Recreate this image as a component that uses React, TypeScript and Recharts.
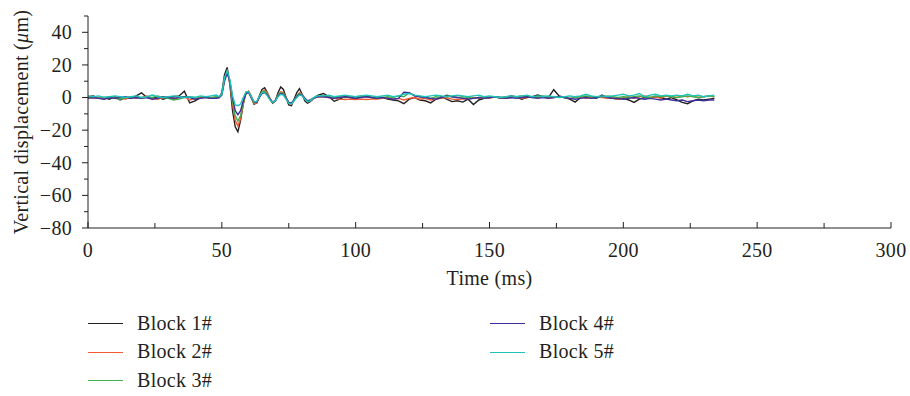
import React from 'react';
import { LineChart, Line, XAxis, YAxis, Label } from 'recharts';

// Sample times (ms)
const timeMs = [
  0, 2, 4, 6, 8, 10, 12, 14, 16, 18, 20, 22, 24, 26, 28, 30, 32, 34, 36, 38, 40, 42, 44, 46, 48,
  49, 50, 51, 52, 53, 54, 55, 56, 57, 58, 59, 60, 61, 62, 63, 64, 65, 66, 67, 68, 69, 70, 71, 72, 73, 74, 75, 76, 77, 78, 79, 80, 81, 82, 83, 84, 85, 86,
  88, 90, 92, 94, 96, 98,
  100, 102, 104, 106, 108, 110, 112, 114, 116, 118,
  120, 122, 124, 126, 128, 130, 132, 134, 136, 138,
  140, 142, 144, 146, 148, 150, 152, 154, 156, 158,
  160, 162, 164, 166, 168, 170, 172, 174, 176, 178,
  180, 182, 184, 186, 188, 190, 192, 194, 196, 198,
  200, 202, 204, 206, 208, 210, 212, 214, 216, 218,
  220, 222, 224, 226, 228, 230, 232, 234,
];

const block1 = [
  0.5, 1, -0.5, 0, -1, 0.5, -1.5, 0, -0.5, 1, 2.9, 0, -0.5, 0.5, -1, 0, 0.5, 1, 3.9, -3.3, -2, 0, 0.5, -0.5, 0.3,
  0, 3, 14, 18.5, 8, -8, -18, -21, -14, -4, 3, 3.5, 0, -4, -3.5, 1, 5, 6, 3, -1, -3.5, -2, 3, 6.5, 5, 0, -4.5, -5, -1, 3, 5.5, 2, -2, -3.5, -2.5, -1, 0.5, 1.5,
  2.5, 0.5, -2.3, -1, 0.5, 0,
  -0.5, 0.5, 1, 0, -0.5, 0, -1, -1.5, -2, -3.8,
  -1, 0, -1.5, -2, -3.3, -1, 0.5, -1, -2.5, -2,
  -2.8, -1, -4.3, -1.5, -0.5, 0, 0.5, -0.5, 0, 1,
  0.5, -1, 0, 0.5, 1.5, 0.5, 0, 4.8, 1, 0,
  -1, -2.8, 0, 0.5, 0, -0.5, 1.5, 0, -0.5, -1,
  -0.5, -1.5, -3, -1, 0, -0.5, 0.5, 0, -1, 0,
  -1.5, -3, -3.8, -2, -1, -1.5, -1, -0.5,
];

const block2 = [
  0.5, -0.5, 0, -1, 0.5, -0.5, 0, -1, 0.5, -0.5, 0, 1, -0.5, -1, 0, 0.5, -1, 0, 0.5, -1.5, -0.5, 0.5, 0, -0.5, 0,
  0, 2, 11, 16, 9, -4, -14, -17.5, -13, -4, 2.5, 4, 1, -3.5, -3.5, 0, 3.5, 4.5, 3, -0.5, -3, -2, 1.5, 3.5, 3, 0, -3, -4, -2, 1, 3, 2, -0.5, -2.5, -2, -1, 0, 0.5,
  0.5, 0, -0.5, -1, -1.2, -1,
  -1.2, -1, -1.2, -1, -1, -0.5, 0, -1, -0.5, -1.5,
  -0.5, 0, -1, -0.5, -1.5, -1, -0.5, 0, -1, -1.2,
  -1, -0.5, 0, -0.5, 0, -0.5, 0.5, 0, -0.5, 0,
  0.5, -0.5, 0, 0.5, 0, 0.5, -0.5, 0, 0.5, 0,
  -0.5, 0, 0.5, -0.5, 0, 0.5, 0, -0.5, 0, -1,
  0, 0.5, -0.5, 0.5, 1, 0, 0.5, -0.5, 1, 0.5,
  0, 1, 0.5, 1, 0, 0.5, 1, 0.5,
];

const block3 = [
  0, 0.5, -0.5, 0, 0.5, -0.5, -1, 0, 0.5, 0, -0.5, 0.5, 0, 1, 0, -0.5, -1.5, -1, 0, 0.5, 0, -0.5, 0.5, 0, 0.5,
  0, 2, 12, 16, 10, -2, -11, -14.5, -11, -3, 2.5, 3.5, 0.5, -3, -3, 0.5, 3.5, 4, 2, -1, -3, -1.5, 1.5, 3, 2.5, -0.5, -3, -3.5, -1.5, 1, 2.5, 1.5, -0.5, -2.5, -2, -0.5, 0.5, 1,
  1, 0.5, 0, 0.5, 0, 0.5,
  0.5, 1, 0.5, 0, 0.5, 0, 0.5, 0, 1, 0.5,
  3, 1, 0.5, 0, -0.5, 0.5, 0, 1.5, 0.5, 0,
  0.5, 0, -0.5, 0, 0.5, 0, 0.5, 0, 0.5, 0,
  0.5, 1, 0.5, 0, 0.5, 1, 0.5, 0, 0.5, 0,
  -0.5, 0, 0.5, 1, 0.5, 0, 0.5, 1, 0.5, 0,
  0.5, 0, 0.5, 1, 0.5, 0, 1, 0.5, 1, 0.5,
  0, 0.5, 1, 0.5, 0, 0.5, 1, 0.5,
];

const block4 = [
  -0.5, 0, -0.5, -1, 0, -0.5, 0, 0.5, -0.5, 0, -0.5, 0, -1, -0.5, 0.5, 0, -0.5, 0, 0.5, 0, -1, -0.5, 0, -0.5, -0.5,
  0, 1.5, 10, 15, 10, 0, -8, -10.5, -8, -2, 2.5, 3, 0, -2.5, -3, 0, 2.5, 3, 1.5, -1, -3, -2, 1, 2.5, 2, -0.5, -3, -3.5, -1.5, 0.5, 2, 1.5, -0.5, -2, -1.5, -0.5, 0, 0.5,
  0.5, 0, -0.5, 0, 0.5, 0,
  -0.5, 0, 0.5, 0, -0.5, 0, -0.5, -1, -0.5, 3.2,
  3, 1, 0.5, 0, -0.5, -1, 0, 1, 0.5, 0,
  -0.5, -1, -0.5, 0, -0.5, 0, 0.5, 0, -0.5, 0,
  -0.5, 0, 0.5, 0, -0.5, 0, -0.5, 0, 0.5, 0,
  -0.5, -1, -0.5, 0, -0.5, 0, 1, 0, -0.5, -0.5,
  -1, -0.5, 0, -0.5, -1, -0.5, -1, -1.5, -1, -1.5,
  -2, -1.5, -2.5, -2, -1.5, -2, -1.5, -1.5,
];

const block5 = [
  1, 0.5, 1, 0, 0.5, 1, 0.5, 0, 0.5, 1, 0, 0.5, 1.5, 0.5, 0, 0.5, 1, 0.5, 0, 0.5, 0, 1, 0.5, 1, 1.5,
  0.5, 2, 12, 16.5, 11, 1, -4.5, -5, -4, 0, 3.5, 3.5, 0.5, -2.5, -2.5, 0.5, 3, 3, 1, -1.5, -3, -2, 0.5, 2, 1.5, -1, -3.5, -4, -2, 0, 1.5, 1, -1, -2.5, -2, -0.5, 0.5, 1,
  1, 1.5, 0.5, 1, 1.5, 1,
  0.5, 1, 1.5, 1, 0.5, 1, 1.5, 0.5, 1, 2,
  2.5, 1.5, 1, 0.5, 1, 1.5, 1, 0.5, 1, 1.5,
  1, 0.5, 1, 1.5, 0.5, 1, 0.5, 0, 0.5, 1,
  0.5, 1, 1.5, 0.5, 1, 0.5, 1, 0.5, 0, 0.5,
  1, 0.5, 1, 2, 1, 0.5, 1, 0.5, 1, 1.5,
  2, 1, 1.5, 2.5, 0.5, 1.5, 2, 1, 1.5, 1,
  1.5, 1, 2, 1, 1.5, 0.5, 1, 1.5,
];

const seriesNames = ['Block 1#', 'Block 2#', 'Block 3#', 'Block 4#', 'Block 5#'];
const seriesColors = ['#231f20', '#f15a32', '#43b04e', '#3d2e9a', '#1fc3b8'];
const seriesValues = [block1, block2, block3, block4, block5];

const xTicks = [0, 25, 50, 75, 100, 125, 150, 175, 200, 225, 250, 275, 300];
const yTicks = [-80, -70, -60, -50, -40, -30, -20, -10, 0, 10, 20, 30, 40, 50];

const rows = timeMs.map((t, i) => {
  const r: Record<string, number> = { t };
  seriesValues.forEach((s, k) => {
    r['s' + k] = s[i];
  });
  return r;
});

const FONT = "'Liberation Serif', 'Times New Roman', serif";
const INK = '#231f20';
const FS = 20;
const LS = 0.3;

const fmt = (v: number) => (v < 0 ? '\u2212' + Math.abs(v) : String(v));

function XTick(props: any) {
  const { x, y, payload } = props;
  const v = payload.value;
  const major = v % 50 === 0;
  return (
    <g>
      <line x1={x} x2={x} y1={y} y2={y - (major ? 6 : 5)} stroke={INK} strokeWidth={1} />
      {major && (
        <text x={x} y={y + 29} textAnchor="middle" fontFamily={FONT} fontSize={FS} letterSpacing={LS} fill={INK}>
          {fmt(v)}
        </text>
      )}
    </g>
  );
}

function YTick(props: any) {
  const { x, y, payload } = props;
  const v = payload.value;
  const major = v % 20 === 0 && v <= 40;
  return (
    <g>
      <line x1={x - (major ? 6 : 4)} x2={x} y1={y} y2={y} stroke={INK} strokeWidth={1} />
      {major && (
        <text x={x - 16} y={y} dy="0.34em" textAnchor="end" fontFamily={FONT} fontSize={FS} letterSpacing={LS} fill={INK}>
          {fmt(v)}
        </text>
      )}
    </g>
  );
}

const renderYLabel = (props: any) => {
  const vb = props.viewBox || {};
  const cy = vb.y + vb.height / 2;
  const cx = 28;
  return (
    <text
      x={cx}
      y={cy}
      transform={`rotate(-90, ${cx}, ${cy})`}
      textAnchor="middle"
      fontFamily={FONT}
      fontSize={FS}
      letterSpacing={LS}
      fill={INK}
    >
      Vertical displacement (<tspan fontStyle="italic">μ</tspan>m)
    </text>
  );
};

const renderXLabel = (props: any) => {
  const vb = props.viewBox || {};
  const cx = vb.x + vb.width / 2;
  return (
    <text x={cx} y={vb.y + 57} textAnchor="middle" fontFamily={FONT} fontSize={FS} letterSpacing={LS} fill={INK}>
      Time (ms)
    </text>
  );
};

export default function App() {
  return (
    <div style={{ position: 'absolute', left: 0, top: 0, width: 910, height: 396, background: '#fff' }}>
      <LineChart width={910} height={396} data={rows} margin={{ top: 16, right: 19, bottom: 128, left: 0 }}>
        <XAxis
          dataKey="t"
          type="number"
          domain={[0, 300]}
          ticks={xTicks}
          interval={0}
          allowDataOverflow
          height={40}
          tickSize={0}
          tickMargin={0}
          tickLine={false}
          tick={<XTick />}
          axisLine={{ stroke: INK, strokeWidth: 1 }}
        >
          <Label content={renderXLabel} />
        </XAxis>
        <YAxis
          type="number"
          domain={[-80, 50]}
          ticks={yTicks}
          interval={0}
          allowDataOverflow
          width={88}
          tickSize={0}
          tickMargin={0}
          tickLine={false}
          tick={<YTick />}
          axisLine={{ stroke: INK, strokeWidth: 1 }}
        >
          <Label content={renderYLabel} />
        </YAxis>
        {seriesNames.map((name, k) => (
          <Line
            key={name}
            name={name}
            dataKey={'s' + k}
            type="linear"
            stroke={seriesColors[k]}
            strokeWidth={1.4}
            dot={false}
            activeDot={false}
            isAnimationActive={false}
          />
        ))}
      </LineChart>
      {seriesNames.map((name, i) => {
        const col = i < 3 ? 0 : 1;
        const row = i < 3 ? i : i - 3;
        const left = col === 0 ? 88 : 490;
        const cy = 324 + row * 28.3;
        return (
          <div key={name}>
            <div
              style={{
                position: 'absolute',
                left,
                top: cy - 0.75,
                width: 35,
                height: 0,
                borderTop: `1.5px solid ${seriesColors[i]}`,
              }}
            />
            <div
              style={{
                position: 'absolute',
                left: left + 49,
                top: cy - 12,
                fontFamily: FONT,
                fontSize: FS,
                letterSpacing: LS,
                lineHeight: '22px',
                color: INK,
                whiteSpace: 'nowrap',
              }}
            >
              {name}
            </div>
          </div>
        );
      })}
    </div>
  );
}
